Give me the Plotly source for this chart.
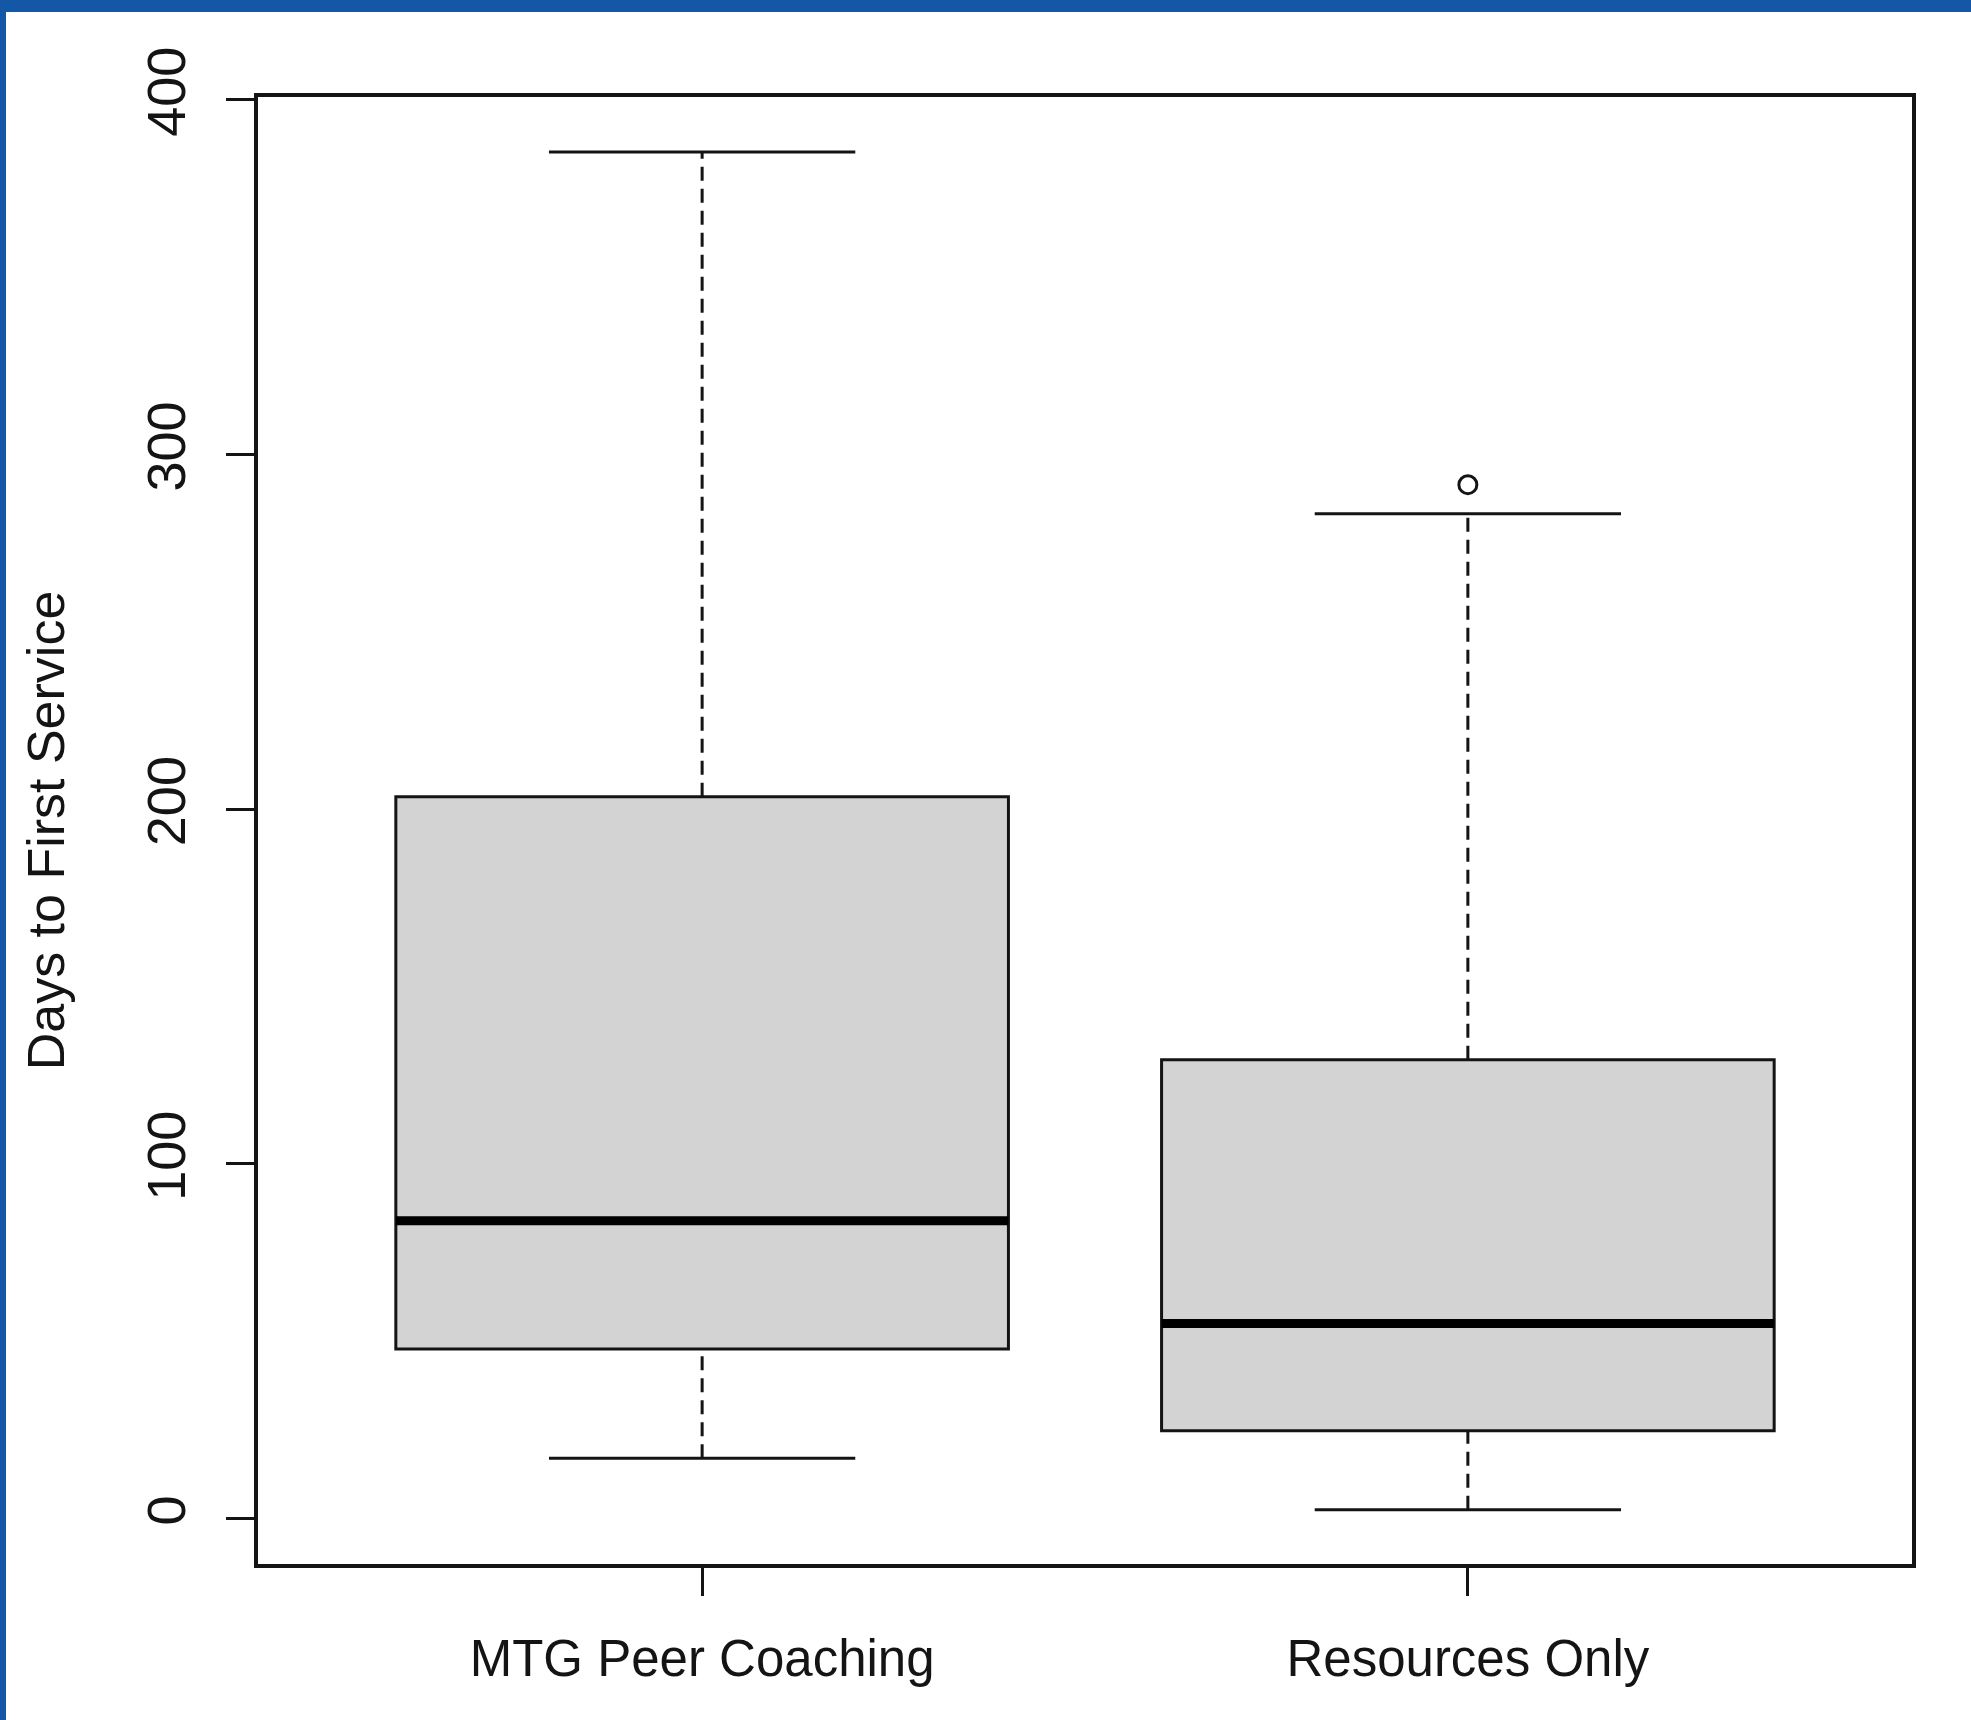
import plotly.graph_objects as go

# ---- data ----
categories = ["MTG Peer Coaching", "Resources Only"]
q1_vals = [47.8, 24.8]
median_vals = [84.0, 55.0]
q3_vals = [203.5, 129.4]
lower_whisker = [17.0, 2.5]
upper_whisker = [385.3, 283.3]
outliers = [[], [291.5]]
y_ticks = [0, 100, 200, 300, 400]
y_title = "Days to First Service"

# ---- styles ----
BOX_W = 0.8
CAP_W = 0.4
FILL = "#d3d3d3"
INK = "#141414"
FONT = "Liberation Sans, Arial, sans-serif"

fig = go.Figure()

for i, name in enumerate(categories):
    c = i + 1
    # box body (whiskers drawn separately, R style)
    fig.add_trace(go.Box(
        x=[c], q1=[q1_vals[i]], median=[median_vals[i]], q3=[q3_vals[i]],
        lowerfence=[q1_vals[i]], upperfence=[q3_vals[i]],
        width=BOX_W, whiskerwidth=0, fillcolor=FILL,
        line=dict(color=INK, width=3), boxpoints=False,
        name=name, showlegend=False, hoverinfo="skip",
    ))
    # thick median
    fig.add_trace(go.Scatter(
        x=[c - BOX_W / 2, c + BOX_W / 2], y=[median_vals[i], median_vals[i]],
        mode="lines", line=dict(color="black", width=9),
        showlegend=False, hoverinfo="skip",
    ))
    # dashed whiskers
    for a, b in ((q3_vals[i], upper_whisker[i]), (lower_whisker[i], q1_vals[i])):
        fig.add_trace(go.Scatter(
            x=[c, c], y=[a, b], mode="lines",
            line=dict(color=INK, width=3, dash="14px,8px"),
            showlegend=False, hoverinfo="skip",
        ))
    # whisker caps
    for v in (upper_whisker[i], lower_whisker[i]):
        fig.add_trace(go.Scatter(
            x=[c - CAP_W / 2, c + CAP_W / 2], y=[v, v], mode="lines",
            line=dict(color=INK, width=3),
            showlegend=False, hoverinfo="skip",
        ))
    # outliers
    if outliers[i]:
        fig.add_trace(go.Scatter(
            x=[c] * len(outliers[i]), y=outliers[i], mode="markers",
            marker=dict(symbol="circle-open", size=18, color=INK,
                        line=dict(width=3, color=INK)),
            showlegend=False, hoverinfo="skip",
        ))

fig.update_layout(
    width=1971, height=1720,
    margin=dict(l=258, r=59, t=97, b=156),
    paper_bgcolor="white", plot_bgcolor="white",
    font=dict(family=FONT, color=INK, size=50),
    showlegend=False,
    xaxis=dict(
        range=[0.42, 2.58], tickmode="array",
        tickvals=[i + 1 for i in range(len(categories))], ticktext=categories,
        ticks="outside", ticklen=28, tickwidth=3, tickcolor=INK,
        showline=True, mirror=True, linewidth=3.5, linecolor=INK,
        showgrid=False, zeroline=False,
        tickfont=dict(size=51, family=FONT, color=INK),
        ticklabelstandoff=19,
    ),
    yaxis=dict(
        range=[-12.8, 400.8], tickmode="array", tickvals=y_ticks,
        ticktext=[str(v) for v in y_ticks], tickangle=-90,
        ticks="outside", ticklen=28, tickwidth=3, tickcolor=INK,
        showline=True, mirror=True, linewidth=3.5, linecolor=INK,
        showgrid=False, zeroline=False,
        tickfont=dict(size=54, family=FONT, color=INK),
        ticklabelstandoff=20,
        title=dict(text=y_title, font=dict(size=52, family=FONT, color=INK),
                   standoff=55),
    ),
    shapes=[
        dict(type="rect", xref="paper", yref="paper",
             x0=-258 / 1654, x1=1 + 59 / 1654, y0=1 + 85 / 1467, y1=1 + 97 / 1467,
             fillcolor="#1457a6", line=dict(width=0), layer="above"),
        dict(type="rect", xref="paper", yref="paper",
             x0=-258 / 1654, x1=-252 / 1654, y0=-156 / 1467, y1=1 + 97 / 1467,
             fillcolor="#1457a6", line=dict(width=0), layer="above"),
    ],
)

fig.write_html(
    "out.html",
    config={"displayModeBar": False},
    post_script="document.body.style.margin='0';document.body.style.overflow='hidden';",
)
